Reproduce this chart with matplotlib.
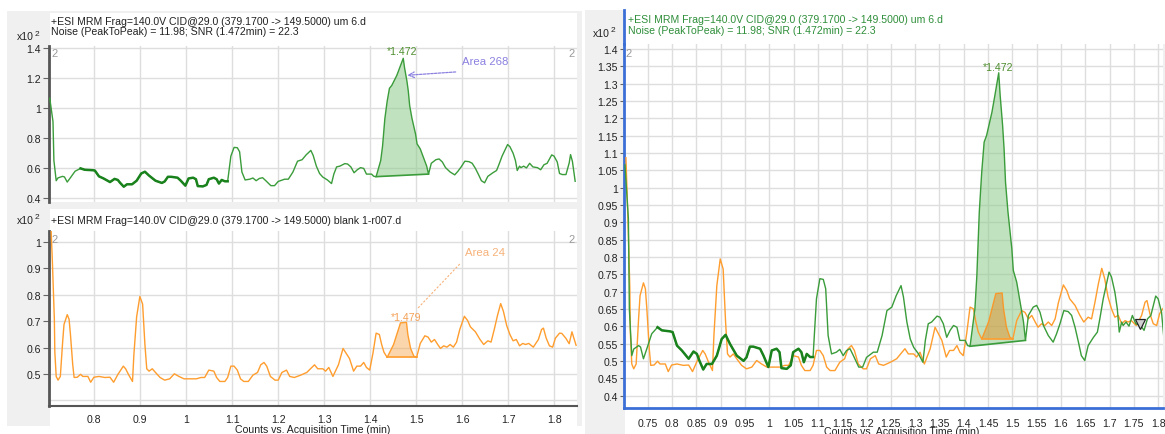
import matplotlib
matplotlib.use("Agg")
import matplotlib.pyplot as plt
import numpy as np
from matplotlib.patches import Rectangle
from matplotlib.lines import Line2D
from matplotlib.ticker import FuncFormatter, FixedLocator

# ---------------------------------------------------------------- data
# MRM 379.17 -> 149.50, intensities in units of x10^2 counts
time_sample = [
    0.703, 0.710, 0.712, 0.717, 0.721, 0.731, 0.735, 0.741, 0.748, 0.758,
    0.770, 0.779, 0.796, 0.801, 0.810, 0.820, 0.834, 0.844, 0.851, 0.856,
    0.864, 0.871, 0.882, 0.892, 0.902, 0.910, 0.919, 0.933, 0.947, 0.953,
    0.960, 0.967, 0.981, 0.988, 0.998, 1.005, 1.015, 1.021, 1.025, 1.036,
    1.044, 1.049, 1.060, 1.066, 1.071, 1.077, 1.084, 1.090, 1.097, 1.104,
    1.111, 1.116, 1.121, 1.128, 1.138, 1.145, 1.152, 1.159, 1.166, 1.173,
    1.184, 1.192, 1.200, 1.214, 1.222, 1.232, 1.242, 1.252, 1.261, 1.271,
    1.276, 1.283, 1.290, 1.297, 1.307, 1.316, 1.321, 1.327, 1.334, 1.345,
    1.351, 1.358, 1.365, 1.372, 1.379, 1.386, 1.392, 1.403, 1.408, 1.413,
    1.423, 1.427, 1.432, 1.437, 1.442, 1.447, 1.458, 1.464, 1.472, 1.475,
    1.480, 1.483, 1.486, 1.491, 1.499, 1.502, 1.509, 1.516, 1.523, 1.527,
    1.533, 1.543, 1.550, 1.557, 1.564, 1.574, 1.584, 1.591, 1.598, 1.606,
    1.615, 1.622, 1.629, 1.636, 1.642, 1.649, 1.656, 1.667, 1.675, 1.680,
    1.687, 1.693, 1.699, 1.704, 1.711, 1.716, 1.720, 1.725, 1.728, 1.734,
    1.740, 1.747, 1.754, 1.764, 1.771, 1.778, 1.785, 1.795, 1.800, 1.807,
    1.812, 1.818, 1.826, 1.833, 1.836, 1.840, 1.846,
]
counts_sample = [
    1.065, 0.910, 0.650, 0.515, 0.534, 0.544, 0.540, 0.506, 0.535, 0.578,
    0.597, 0.588, 0.585, 0.583, 0.544, 0.530, 0.506, 0.527, 0.520, 0.501,
    0.475, 0.491, 0.491, 0.515, 0.563, 0.575, 0.549, 0.515, 0.500, 0.510,
    0.541, 0.541, 0.535, 0.515, 0.482, 0.530, 0.535, 0.525, 0.479, 0.477,
    0.487, 0.525, 0.535, 0.525, 0.496, 0.520, 0.511, 0.511, 0.679, 0.737,
    0.735, 0.708, 0.573, 0.520, 0.525, 0.533, 0.515, 0.530, 0.535, 0.515,
    0.482, 0.482, 0.510, 0.525, 0.525, 0.573, 0.645, 0.655, 0.688, 0.717,
    0.684, 0.612, 0.563, 0.539, 0.520, 0.496, 0.559, 0.607, 0.612, 0.629,
    0.626, 0.607, 0.568, 0.588, 0.602, 0.597, 0.559, 0.559, 0.544, 0.542,
    0.650, 0.746, 0.929, 1.044, 1.131, 1.150, 1.217, 1.265, 1.331, 1.265,
    1.179, 1.112, 1.015, 0.930, 0.823, 0.761, 0.727, 0.669, 0.612, 0.559,
    0.631, 0.655, 0.660, 0.640, 0.602, 0.573, 0.554, 0.578, 0.607, 0.645,
    0.642, 0.631, 0.597, 0.554, 0.515, 0.501, 0.544, 0.568, 0.583, 0.621,
    0.679, 0.717, 0.756, 0.742, 0.698, 0.650, 0.583, 0.612, 0.602, 0.612,
    0.600, 0.631, 0.607, 0.602, 0.588, 0.621, 0.631, 0.687, 0.679, 0.640,
    0.563, 0.556, 0.556, 0.633, 0.689, 0.644, 0.511,
]

time_blank = [
    0.705, 0.7086, 0.711, 0.713, 0.714, 0.717, 0.721, 0.726, 0.731, 0.734,
    0.741, 0.745, 0.748, 0.753, 0.756, 0.763, 0.770, 0.775, 0.786, 0.792,
    0.799, 0.810, 0.823, 0.834, 0.842, 0.851, 0.863, 0.868, 0.875, 0.883,
    0.886, 0.892, 0.899, 0.905, 0.910, 0.914, 0.919, 0.926, 0.933, 0.943,
    0.953, 0.964, 0.974, 0.984, 0.995, 1.008, 1.022, 1.032, 1.040, 1.049,
    1.060, 1.066, 1.073, 1.084, 1.090, 1.097, 1.104, 1.111, 1.118, 1.125,
    1.135, 1.145, 1.155, 1.162, 1.169, 1.175, 1.183, 1.193, 1.200, 1.208,
    1.218, 1.225, 1.235, 1.249, 1.262, 1.273, 1.279, 1.286, 1.297, 1.303,
    1.310, 1.319, 1.331, 1.341, 1.348, 1.355, 1.364, 1.371, 1.379, 1.386,
    1.392, 1.399, 1.406, 1.413, 1.420, 1.425, 1.430, 1.437, 1.451, 1.458,
    1.466, 1.479, 1.482, 1.488, 1.495, 1.501, 1.509, 1.519, 1.526, 1.533,
    1.540, 1.547, 1.553, 1.560, 1.567, 1.574, 1.581, 1.588, 1.595, 1.605,
    1.612, 1.618, 1.629, 1.639, 1.647, 1.656, 1.663, 1.670, 1.677, 1.684,
    1.690, 1.697, 1.704, 1.711, 1.718, 1.725, 1.732, 1.738, 1.745, 1.755,
    1.766, 1.773, 1.777, 1.783, 1.790, 1.797, 1.803, 1.812, 1.817, 1.826,
    1.833, 1.839, 1.848,
]
counts_blank = [
    1.086, 0.930, 0.815, 0.708, 0.584, 0.491, 0.477, 0.491, 0.621, 0.688,
    0.725, 0.708, 0.650, 0.535, 0.487, 0.488, 0.499, 0.491, 0.491, 0.469,
    0.488, 0.491, 0.487, 0.488, 0.469, 0.498, 0.530, 0.520, 0.496, 0.472,
    0.573, 0.717, 0.794, 0.765, 0.612, 0.520, 0.511, 0.520, 0.506, 0.487,
    0.477, 0.482, 0.501, 0.491, 0.482, 0.482, 0.482, 0.487, 0.487, 0.515,
    0.511, 0.487, 0.472, 0.472, 0.487, 0.530, 0.530, 0.515, 0.482, 0.472,
    0.472, 0.496, 0.506, 0.535, 0.544, 0.530, 0.491, 0.477, 0.477, 0.506,
    0.515, 0.491, 0.487, 0.496, 0.506, 0.525, 0.535, 0.520, 0.520, 0.511,
    0.525, 0.491, 0.535, 0.597, 0.578, 0.559, 0.511, 0.530, 0.530, 0.544,
    0.525, 0.515, 0.578, 0.655, 0.650, 0.612, 0.583, 0.563, 0.612, 0.650,
    0.694, 0.696, 0.650, 0.597, 0.568, 0.563, 0.616, 0.645, 0.640, 0.621,
    0.631, 0.612, 0.597, 0.607, 0.602, 0.612, 0.602, 0.621, 0.669, 0.719,
    0.703, 0.679, 0.660, 0.631, 0.612, 0.626, 0.621, 0.669, 0.722, 0.767,
    0.737, 0.684, 0.650, 0.626, 0.631, 0.607, 0.616, 0.612, 0.616, 0.602,
    0.631, 0.669, 0.674, 0.636, 0.607, 0.602, 0.636, 0.655, 0.654, 0.635,
    0.615, 0.660, 0.609,
]

# integration windows (start, end) and apex retention times
sample_window = (1.413, 1.527)
blank_window = (1.437, 1.501)
sample_rt = 1.472
blank_rt = 1.479
sample_area_label = "Area 268"
blank_area_label = "Area 24"

title_sample = "+ESI MRM Frag=140.0V CID@29.0 (379.1700 -> 149.5000) um 6.d"
title_blank = "+ESI MRM Frag=140.0V CID@29.0 (379.1700 -> 149.5000) blank 1-r007.d"
noise_line = "Noise (PeakToPeak) = 11.98; SNR (1.472min) = 22.3"
x_label = "Counts vs. Acquisition Time (min)"

# ---------------------------------------------------------------- style
plt.rcParams["font.family"] = ["Liberation Sans", "DejaVu Sans"]
FS = 7.6
GREEN = "#3a9c3a"
GREEN_DARK = "#1a821c"
GREEN_FILL = "#8fcb8a"
ORANGE = "#ff9d2e"
ORANGE_FILL = "#f7a54a"
GRID = "#dedede"
TXT = "#222222"
PANEL = "#f0f0f0"
BLUE = "#3b6fd6"

W, H = 1165, 435
fig = plt.figure(figsize=(W / 100, H / 100), dpi=100)
fig.patch.set_facecolor("white")


def fx(x):
    return x / W


def fy(y):
    return 1 - y / H


def box(x0, y0, x1, y1):
    return [x0 / W, 1 - y1 / H, (x1 - x0) / W, (y1 - y0) / H]


def rect(x0, y0, x1, y1, color, z=-5):
    fig.add_artist(Rectangle((fx(x0), fy(y1)), (x1 - x0) / W, (y1 - y0) / H,
                             transform=fig.transFigure, facecolor=color,
                             edgecolor="none", zorder=z))


def fmt(v, _pos=None):
    return f"{v:.2f}".rstrip("0").rstrip(".")


# panel backgrounds
rect(7, 12, 582, 427, PANEL)
rect(50, 14, 577, 47, "white", -4)
rect(50, 210, 577, 232, "white", -4)
rect(50, 407, 577, 427, "white", -4)
rect(585, 11, 1165, 435, PANEL)
rect(625, 11, 1165, 45, "white", -4)
rect(625, 409, 1165, 435, "white", -4)

t_s = np.array(time_sample)
c_s = np.array(counts_sample)
t_b = np.array(time_blank)
c_b = np.array(counts_blank)


def draw_sample(ax, lw=1.0):
    ax.plot(t_s, c_s, color=GREEN, lw=lw, zorder=4)
    bold = (t_s >= 0.765) & (t_s <= 1.09)
    ax.plot(t_s[bold], c_s[bold], color=GREEN_DARK, lw=1.8, zorder=4,
            solid_joinstyle="round")


def draw_blank(ax, lw=1.0):
    ax.plot(t_b, c_b, color=ORANGE, lw=lw, zorder=3)


def peak_fill(ax, t, c, window, fc, ec, alpha, z):
    t0, t1 = window
    m = (t >= t0) & (t <= t1)
    c0 = np.interp(t0, t, c)
    c1 = np.interp(t1, t, c)
    base = c0 + (t[m] - t0) * (c1 - c0) / (t1 - t0)
    ax.fill_between(t[m], base, c[m], facecolor=fc, alpha=alpha, lw=0, zorder=z)
    ax.plot([t0, t1], [c0, c1], color=ec, lw=1.2, zorder=z + 1)


def style_left(ax, ylim, yticks, ygrid_extra=()):
    ax.set_xlim(0.702, 1.85)
    ax.set_ylim(*ylim)
    ax.set_xticks(np.arange(0.8, 1.81, 0.1))
    ax.set_yticks(yticks)
    if ygrid_extra:
        ax.yaxis.set_minor_locator(FixedLocator(list(ygrid_extra)))
        ax.grid(True, which="minor", axis="y", color=GRID, lw=1.0)
        ax.tick_params(axis="y", which="minor", length=0)
    ax.yaxis.set_major_formatter(FuncFormatter(fmt))
    ax.xaxis.set_major_formatter(FuncFormatter(fmt))
    ax.grid(True, color=GRID, lw=1.0)
    ax.set_axisbelow(True)
    for s in ("top", "right"):
        ax.spines[s].set_visible(False)
    ax.spines["left"].set_color("#555555")
    ax.spines["left"].set_linewidth(2.0)
    ax.tick_params(axis="y", length=4, width=0.8, color="#666666",
                   labelsize=FS, labelcolor=TXT, pad=2)
    ax.tick_params(axis="x", length=0, labelsize=FS, labelcolor=TXT, pad=6)
    ax.text(0.004, 0.985, "2", transform=ax.transAxes, ha="left", va="top",
            fontsize=8, color="#9a9a9a")
    ax.text(0.995, 0.985, "2", transform=ax.transAxes, ha="right", va="top",
            fontsize=8, color="#9a9a9a")


# ---------------------------------------------------------------- left top
ax_top = fig.add_axes(box(49.3, 47, 577, 203))
style_left(ax_top, (0.373, 1.413), np.arange(0.4, 1.41, 0.2))
ax_top.spines["bottom"].set_visible(False)
ax_top.tick_params(axis="x", labelbottom=False)
peak_fill(ax_top, t_s, c_s, sample_window, GREEN_FILL, GREEN, 0.55, 2)
draw_sample(ax_top)
ax_top.text(sample_rt - 0.003, 1.378, f"*{sample_rt:.3f}", ha="center",
            va="center", fontsize=FS, color="#4f8f2f")
ax_top.text(1.599, 1.311, sample_area_label, ha="left", va="center",
            fontsize=8.2, color="#8a80e0")
ax_top.annotate("", xy=(1.481, 1.218), xytext=(1.586, 1.24),
                arrowprops=dict(arrowstyle="->", linestyle=(0, (2, 1)),
                                color="#8a80e0", lw=0.9,
                                shrinkA=0, shrinkB=0))

# ---------------------------------------------------------------- left bottom
ax_bot = fig.add_axes(box(49.3, 232, 577, 407))
style_left(ax_bot, (0.379, 1.042), np.arange(0.5, 1.01, 0.1), ygrid_extra=(0.4,))
ax_bot.spines["bottom"].set_color("#555555")
ax_bot.spines["bottom"].set_linewidth(1.5)
peak_fill(ax_bot, t_b, c_b, blank_window, ORANGE_FILL, ORANGE, 0.45, 2)
draw_blank(ax_bot)
ax_bot.text(blank_rt - 0.001, 0.718, f"*{blank_rt:.3f}", ha="center",
            va="center", fontsize=FS, color="#f5a055")
ax_bot.text(1.606, 0.964, blank_area_label, ha="left", va="center",
            fontsize=8.2, color="#f7b27a")
ax_bot.plot([1.595, 1.504], [0.917, 0.75], color="#f7b27a", lw=0.8,
            linestyle=(0, (2, 1.5)), zorder=5)

# ---------------------------------------------------------------- overlay
ax_ovl = fig.add_axes(box(624, 45, 1163, 409))
ax_ovl.set_xlim(0.701, 1.81)
ax_ovl.set_ylim(0.364, 1.414)
ax_ovl.set_xticks(np.arange(0.75, 1.81, 0.05))
ax_ovl.set_yticks(np.arange(0.4, 1.401, 0.05))
ax_ovl.xaxis.set_major_formatter(FuncFormatter(fmt))
ax_ovl.yaxis.set_major_formatter(FuncFormatter(fmt))
ax_ovl.grid(True, color=GRID, lw=1.0)
ax_ovl.set_axisbelow(True)
for s in ("top", "right"):
    ax_ovl.spines[s].set_visible(False)
for s in ("left", "bottom"):
    ax_ovl.spines[s].set_color(BLUE)
    ax_ovl.spines[s].set_linewidth(2.0)
ax_ovl.tick_params(axis="y", length=3, width=0.8, color="#666666",
                   labelsize=FS, labelcolor=TXT, pad=1.5)
ax_ovl.tick_params(axis="x", length=0, labelsize=FS, labelcolor=TXT, pad=7)
peak_fill(ax_ovl, t_s, c_s, sample_window, GREEN_FILL, GREEN, 0.55, 2)
peak_fill(ax_ovl, t_b, c_b, blank_window, "#e0902a", ORANGE, 0.5, 5)
draw_blank(ax_ovl)
draw_sample(ax_ovl)
ax_ovl.text(sample_rt - 0.001, 1.349, f"*{sample_rt:.3f}", ha="center",
            va="center", fontsize=FS, color="#4f8f2f")
ax_ovl.text(0.003, 0.99, "2", transform=ax_ovl.transAxes, ha="left",
            va="top", fontsize=8, color="#9a9a9a")
ax_ovl.plot([1.762], [0.607], marker="v", ms=7, mfc="#d0d0d0", mec="#222222",
            mew=0.9, zorder=8, ls="none")
fig.add_artist(Line2D([fx(624), fx(624)], [fy(11), fy(45)], color=BLUE, lw=2.0,
                      transform=fig.transFigure))

# ---------------------------------------------------------------- headers
fig.text(fx(51), fy(22), title_sample, fontsize=FS, color=TXT, va="center")
fig.text(fx(51), fy(32), noise_line, fontsize=FS, color=TXT, va="center")
fig.text(fx(51), fy(221), title_blank, fontsize=FS, color=TXT, va="center")
fig.text(fx(628), fy(20), title_sample, fontsize=FS, color="#2f8f3a", va="center")
fig.text(fx(628), fy(31), noise_line, fontsize=FS, color="#2f8f3a", va="center")

for (x, y) in [(17, 37), (17, 221), (593, 34)]:
    fig.text(fx(x), fy(y), "x10", fontsize=FS, color=TXT, va="center")
    fig.text(fx(x + 18), fy(y - 3), "2", fontsize=6, color=TXT, va="center")

fig.text(fx(313), fy(430), x_label, fontsize=FS, color=TXT, ha="center",
         va="center")
fig.text(fx(902), fy(432), x_label, fontsize=FS, color=TXT, ha="center",
         va="center")

fig.savefig("out.png", dpi=100, facecolor="white")
